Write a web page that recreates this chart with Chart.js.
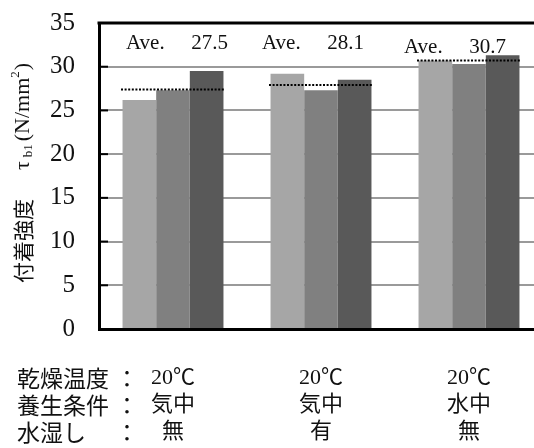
<!DOCTYPE html>
<html>
<head>
<meta charset="utf-8">
<script src="https://cdn.jsdelivr.net/npm/chart.js@4"></script>
<style>
html, body { margin: 0; padding: 0; overflow: hidden; background: #fff; }
#wrap { width: 548px; height: 448px; }
</style>
</head>
<body>
<div id="wrap"><canvas id="bondChart" width="548" height="448"></canvas></div>
<script>
// conditions per group: drying temp / curing / wetting
const groups = [
    ['20℃', '気中', '無'],
    ['20℃', '気中', '有'],
    ['20℃', '水中', '無'],
];
const rowHeads = ['乾燥温度', '養生条件', '水湿し'];

const seriesA = [26.2, 29.2, 30.7];
const seriesB = [27.3, 27.3, 30.3];
const seriesC = [29.5, 28.5, 31.3];

const aveLine = [27.4, 27.9, 30.7];
const aveText = ['27.5', '28.1', '30.7'];

const serif = "'Liberation Serif', 'Noto Sans CJK JP', serif";
const cjk = "'Noto Sans CJK JP', sans-serif";
const ink = '#111';

const extras = {
    id: 'extras',
    afterDatasetsDraw(chart) {
        const {ctx, scales: {x, y}} = chart;
        ctx.save();
        ctx.strokeStyle = '#000';
        ctx.lineWidth = 2;
        ctx.setLineDash([2, 1.6]);
        aveLine.forEach((v, i) => {
            const cx = x.getPixelForValue(i);
            const py = y.getPixelForValue(v);
            ctx.beginPath();
            ctx.moveTo(cx - 52, py);
            ctx.lineTo(cx + 51, py);
            ctx.stroke();
        });
        ctx.restore();
    },
    afterDraw(chart) {
        const {ctx, chartArea: a, scales: {x, y}} = chart;
        ctx.save();

        // top frame
        ctx.strokeStyle = '#000';
        ctx.lineWidth = 3;
        ctx.beginPath();
        ctx.moveTo(a.left - 1.5, a.top);
        ctx.lineTo(a.right, a.top);
        ctx.stroke();

        // inward tick marks
        ctx.lineWidth = 2;
        y.ticks.forEach(t => {
            if (t.value <= 0 || t.value >= 35) return;
            const py = y.getPixelForValue(t.value);
            ctx.beginPath();
            ctx.moveTo(a.left, py);
            ctx.lineTo(a.left + 9, py);
            ctx.stroke();
        });

        // average labels
        const dx = [4, -8, -14];
        const dy = [0, 0, 4];
        ctx.fillStyle = ink;
        ctx.font = '21px ' + serif;
        ctx.textBaseline = 'middle';
        aveText.forEach((s, i) => {
            const cx = x.getPixelForValue(i) + dx[i];
            const ty = a.top + 20 + dy[i];
            ctx.textAlign = 'left';
            ctx.fillText('Ave.', cx - 51, ty);
            ctx.textAlign = 'right';
            ctx.fillText(s, cx + 51, ty);
        });

        // y axis title
        ctx.translate(23, (a.top + a.bottom) / 2 - 3);
        ctx.rotate(-Math.PI / 2);
        const parts = [
            {t: '付着強度', f: '21px ' + cjk, o: 0, gap: 29},
            {t: 'τ', f: '22px ' + serif, o: 0, gap: 4},
            {t: 'b1', f: '13px ' + serif, o: 6, gap: 3},
            {t: '(N/mm', f: '22px ' + serif, o: 0, gap: 0},
            {t: '2', f: '13px ' + serif, o: -7, gap: 1},
            {t: ')', f: '22px ' + serif, o: 0, gap: 0},
        ];
        let total = 0;
        parts.forEach(p => { ctx.font = p.f; p.w = ctx.measureText(p.t).width; total += p.w + p.gap; });
        let px = -total / 2;
        ctx.textAlign = 'left';
        parts.forEach(p => {
            ctx.font = p.f;
            ctx.fillText(p.t, px, p.o);
            px += p.w + p.gap;
        });
        ctx.setTransform(1, 0, 0, 1, 0, 0);

        // row headers under the axis
        ctx.font = '23px ' + cjk;
        ctx.textBaseline = 'middle';
        rowHeads.forEach((s, k) => {
            const ty = a.bottom + 35.5 + 27 * (k + 0.5);
            ctx.textAlign = 'left';
            ctx.fillText(s, 17, ty);
            ctx.textAlign = 'center';
            ctx.fillText('：', 127, ty);
        });
        ctx.restore();
    }
};

new Chart(document.getElementById('bondChart'), {
    type: 'bar',
    data: {
        labels: groups,
        datasets: [
            {data: seriesA, backgroundColor: '#a6a6a6'},
            {data: seriesB, backgroundColor: '#808080'},
            {data: seriesC, backgroundColor: '#595959'},
        ]
    },
    options: {
        responsive: false,
        animation: false,
        layout: {padding: {top: 23, right: 5, left: 0, bottom: 0}},
        datasets: {bar: {categoryPercentage: 0.682, barPercentage: 1}},
        plugins: {legend: {display: false}, tooltip: {enabled: false}},
        scales: {
            x: {
                grid: {display: false, drawTicks: false},
                border: {color: '#000', width: 3},
                ticks: {
                    padding: 35.5,
                    color: ink,
                    font: {family: serif, size: 22, lineHeight: '27px'},
                    maxRotation: 0,
                    autoSkip: false
                },
                afterFit: s => { s.height = 119; }
            },
            y: {
                min: 0,
                max: 35,
                grid: {color: '#9a9a9a', lineWidth: 2, drawTicks: false},
                border: {color: '#000', width: 3},
                ticks: {
                    stepSize: 5,
                    padding: 24,
                    color: ink,
                    font: {family: serif, size: 25}
                },
                afterFit: s => { s.width = 99; s.paddingTop = 0; s.paddingBottom = 0; }
            }
        }
    },
    plugins: [extras]
});
</script>
</body>
</html>
